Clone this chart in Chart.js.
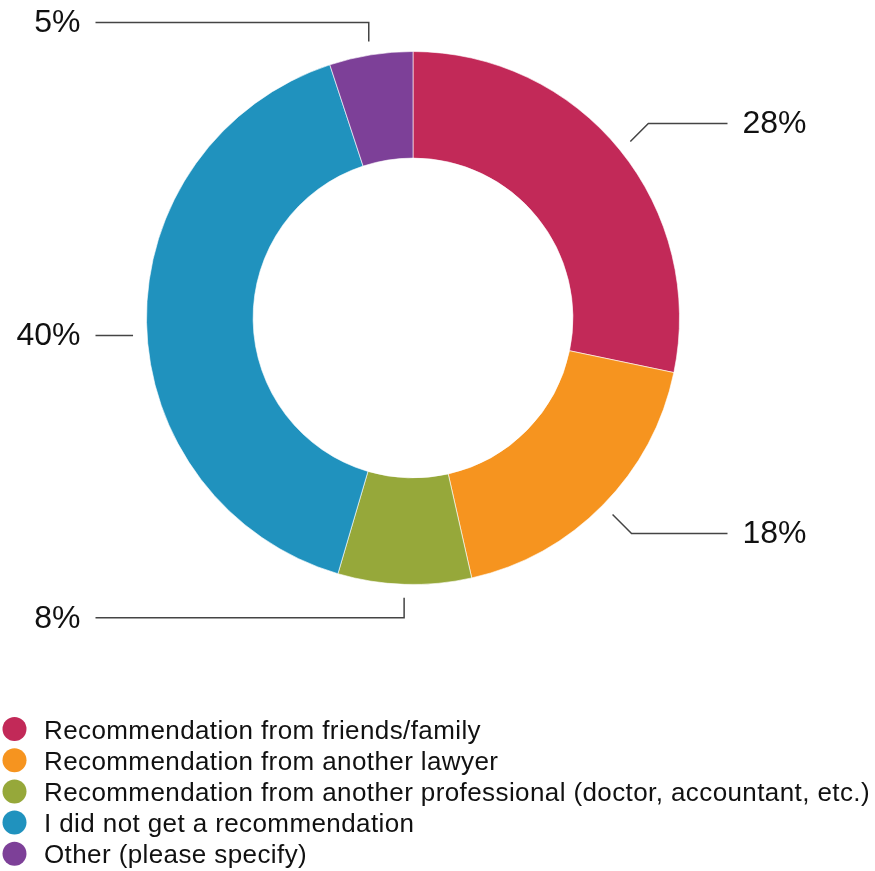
<!DOCTYPE html>
<html>
<head>
<meta charset="utf-8">
<title>How did you find your lawyer?</title>
<script src="https://cdn.jsdelivr.net/npm/chart.js@4.4.1/dist/chart.umd.min.js"></script>
<style>
    html, body { margin: 0; padding: 0; background: #ffffff; }
    #sourceChart { display: block; }
</style>
</head>
<body>
<canvas id="sourceChart" width="875" height="871"></canvas>
<script>
// Survey answers, in drawing order (clockwise from the top)
const categories = [
    'Recommendation from friends/family',
    'Recommendation from another lawyer',
    'Recommendation from another professional (doctor, accountant, etc.)',
    'I did not get a recommendation',
    'Other (please specify)'
];
const shares = [28, 18, 8, 40, 5];
const sliceColors = ['#c22958', '#f6941f', '#96a83a', '#2092be', '#7d4098'];

const FONT = '"Liberation Sans", Arial, Helvetica, sans-serif';

// Leader line shape per slice: elbow offset from the start point, and which side the label sits on
const leaders = [
    { side: 'right', elbow: [18, -18] },
    { side: 'right', elbow: [19, 19] },
    { side: 'left', elbow: [0, 20] },
    { side: 'left', elbow: [0, 0], drop: 13 },
    { side: 'left', elbow: [0, -19] }
];

const leaderLabels = {
    id: 'leaderLabels',
    afterDatasetsDraw(chart) {
        const ctx = chart.ctx;
        const arcs = chart.getDatasetMeta(0).data;
        ctx.save();
        ctx.strokeStyle = '#444';
        ctx.lineWidth = 1.5;
        ctx.fillStyle = '#111';
        ctx.font = '32px ' + FONT;
        ctx.textBaseline = 'middle';

        arcs.forEach((arc, i) => {
            const p = arc.getProps(['x', 'y', 'startAngle', 'endAngle', 'outerRadius'], true);
            const mid = (p.startAngle + p.endAngle) / 2;
            const r = p.outerRadius + 13.5;
            const cfg = leaders[i];
            const drop = cfg.drop || 0;
            const sx = p.x + Math.cos(mid) * r;
            const sy = p.y + Math.sin(mid) * r + drop;
            const ex = sx + cfg.elbow[0];
            const ey = sy + cfg.elbow[1];
            const endX = cfg.side === 'right'
                ? p.x + p.outerRadius + 48
                : p.x - p.outerRadius - 51;

            ctx.beginPath();
            ctx.moveTo(sx, sy);
            ctx.lineTo(ex, ey);
            ctx.lineTo(endX, ey);
            ctx.stroke();

            const text = shares[i] + '%';
            if (cfg.side === 'right') {
                ctx.textAlign = 'left';
                ctx.fillText(text, endX + 15, ey + 1);
            } else {
                ctx.textAlign = 'right';
                ctx.fillText(text, endX - 15, ey + 1);
            }
        });
        ctx.restore();
    }
};

// Stacked legend under the ring
const listLegend = {
    id: 'listLegend',
    afterDraw(chart) {
        const ctx = chart.ctx;
        const top = 729;
        const step = 31.2;
        ctx.save();
        ctx.font = '26px ' + FONT;
        if ('letterSpacing' in ctx) ctx.letterSpacing = '0.4px';
        ctx.textAlign = 'left';
        ctx.textBaseline = 'alphabetic';
        categories.forEach((label, i) => {
            const y = top + i * step;
            ctx.fillStyle = sliceColors[i];
            ctx.beginPath();
            ctx.arc(14.5, y, 12, 0, Math.PI * 2);
            ctx.fill();
            ctx.fillStyle = '#111';
            ctx.fillText(label, 44, y + 9.5);
        });
        ctx.restore();
    }
};

new Chart(document.getElementById('sourceChart'), {
    type: 'doughnut',
    data: {
        labels: categories,
        datasets: [{
            data: shares,
            backgroundColor: sliceColors,
            borderColor: 'rgba(255, 255, 255, 0.6)',
            borderWidth: 1,
            hoverOffset: 0
        }]
    },
    options: {
        responsive: false,
        animation: false,
        events: [],
        cutout: '60%',
        layout: {
            padding: { left: 146, right: 195, top: 51, bottom: 286 }
        },
        plugins: {
            legend: { display: false },
            tooltip: { enabled: false }
        }
    },
    plugins: [leaderLabels, listLegend]
});
</script>
</body>
</html>
